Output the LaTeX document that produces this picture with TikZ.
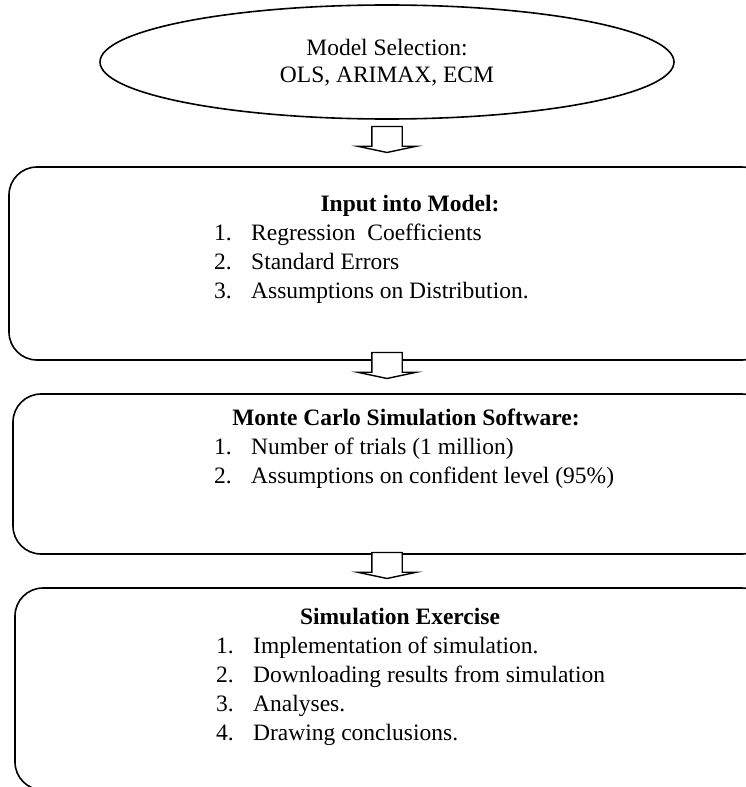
\documentclass[tikz,border=0pt]{standalone}
\usepackage{fontspec}
\setmainfont{Liberation Serif}
\usetikzlibrary{positioning}
\usetikzlibrary{shapes.geometric}
\usetikzlibrary{shapes.arrows}
\usetikzlibrary{calc}

\tikzset{
    stage/.style={draw, line width=1.6pt, rounded corners=28pt, inner sep=0pt},
    flowarrow/.style={single arrow, draw, fill=white, line width=1.4pt, rotate=-90,
        inner xsep=0pt, inner ysep=14.5pt, minimum height=26pt,
        single arrow head extend=14pt, single arrow tip angle=156},
    txt/.style={inner sep=0pt, font=\fontsize{23.5}{27}\selectfont},
    head/.style={txt, anchor=base, font=\fontsize{23.5}{27}\selectfont\bfseries},
    num/.style={txt, anchor=base west},
}

\begin{document}
\begin{tikzpicture}[x=1pt, y=-1pt]
    \clip (0,0) rectangle (746,787);

    % Model selection
    \node[draw, ellipse, line width=1.6pt, inner sep=0pt,
        minimum width=574pt, minimum height=114pt] (sel) at (387,62) {};
    \node[txt, anchor=base] (sel1) at (387,55) {Model Selection:};
    \node[txt, anchor=base] (sel2) at (387,82) {OLS, ARIMAX, ECM};

    % Input box
    \node[stage, minimum width=761pt, minimum height=193pt] (inp) at (389.5,263.5) {};
    \node[head] (inphead) at (410,211) {Input into Model:};
    \foreach \t [count=\i] in {Regression\ \ Coefficients, Standard Errors,
        Assumptions on Distribution.} {
        \node[num] (inpn\i) at (214,211+29*\i) {\i.};
        \node[num] (inpt\i) at (251,211+29*\i) {\t};
    }

    % Monte Carlo box
    \node[stage, minimum width=757pt, minimum height=160pt] (mc) at (391.5,474) {};
    \node[head] (mchead) at (406,425) {Monte Carlo Simulation Software:};
    \foreach \t [count=\i] in {Number of trials (1 million),
        Assumptions on confident level (95\%)} {
        \node[num] (mcn\i) at (214,425+29*\i) {\i.};
        \node[num] (mct\i) at (251,425+29*\i) {\t};
    }

    % Simulation box
    \node[stage, minimum width=755pt, minimum height=202pt] (sim) at (392.5,689) {};
    \node[head] (simhead) at (400,624) {Simulation Exercise};
    \foreach \t [count=\i] in {Implementation of simulation.,
        Downloading results from simulation, Analyses., Drawing conclusions.} {
        \node[num] (simn\i) at (216,624+29*\i) {\i.};
        \node[num] (simt\i) at (253,624+29*\i) {\t};
    }

    % Arrows
    \node[flowarrow, anchor=tip] (a1) at ($(inp.north)+(-2.5,-13)$) {};
    \node[flowarrow, anchor=tip] (a2) at ($(mc.north)+(-4.5,-14)$) {};
    \node[flowarrow, anchor=tip] (a3) at ($(sim.north)+(-5.5,-8)$) {};
\end{tikzpicture}
\end{document}
